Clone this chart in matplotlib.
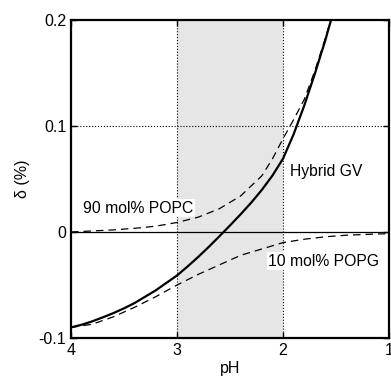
import matplotlib
matplotlib.use("Agg")
import matplotlib.pyplot as plt

plt.rcParams['font.family'] = ['Liberation Sans', 'DejaVu Sans']

# hybrid GV (solid)
ph_hybrid = [4.0, 3.9, 3.8, 3.7, 3.6, 3.5, 3.4, 3.3, 3.2, 3.1, 3.0, 2.9, 2.8, 2.7, 2.6, 2.5, 2.4,
             2.3, 2.2, 2.1, 2.0, 1.9, 1.8, 1.7, 1.6, 1.55]
d_hybrid = [-0.0900, -0.0875, -0.0843, -0.0805, -0.0765, -0.0720, -0.0670, -0.0610, -0.0550,
            -0.0480, -0.0410, -0.0325, -0.0235, -0.0140, -0.0040, 0.0062, 0.0167, 0.0277,
            0.0397, 0.0532, 0.0692, 0.0922, 0.1192, 0.1492, 0.1812, 0.1990]

# 90 mol% POPC (dashed, upper)
ph_popc = [4.0, 3.8, 3.6, 3.4, 3.2, 3.0, 2.8, 2.6, 2.4, 2.2, 2.1, 2.0, 1.9, 1.8, 1.7, 1.6, 1.55]
d_popc = [0.000, 0.001, 0.002, 0.0035, 0.0055, 0.009, 0.014, 0.022, 0.034, 0.053, 0.069,
          0.088, 0.106, 0.125, 0.152, 0.183, 0.200]

# 10 mol% POPG (dashed, lower)
ph_popg = [4.0, 3.8, 3.6, 3.4, 3.2, 3.0, 2.8, 2.6, 2.4, 2.2, 2.0, 1.8, 1.6, 1.4, 1.2, 1.0]
d_popg = [-0.090, -0.087, -0.080, -0.071, -0.061, -0.050, -0.040, -0.031, -0.022, -0.016,
          -0.010, -0.0068, -0.0045, -0.003, -0.0022, -0.0015]

fig = plt.figure(figsize=(3.91, 3.80), dpi=100)
ax = fig.add_axes([0.1816, 0.1105, 0.8133, 0.8368])

ax.axvspan(3, 2, color='#e6e6e6', lw=0, zorder=0)
for x in [3, 2]:
    ax.axvline(x, color='black', ls=':', lw=0.8, zorder=1)
ax.axhline(0.1, color='black', ls=':', lw=0.8, zorder=1)
ax.axhline(0, color='black', lw=0.9, zorder=1)

ax.plot(ph_popc, d_popc, color='black', ls=(0, (6, 4)), lw=0.9, zorder=2)
ax.plot(ph_popg, d_popg, color='black', ls=(0, (6, 4)), lw=0.9, zorder=2)
ax.plot(ph_hybrid, d_hybrid, color='black', lw=1.6, zorder=3)

box = dict(facecolor='white', edgecolor='none', pad=1)
ax.text(3.887, 0.0226, "90 mol% POPC", fontsize=11.3, va='center', ha='left', bbox=box, zorder=4)
ax.text(1.934, 0.0575, "Hybrid GV", fontsize=11.3, va='center', ha='left', bbox=box, zorder=4)
ax.text(2.142, -0.0274, "10 mol% POPG", fontsize=11.3, va='center', ha='left', bbox=box, zorder=4)

ax.set_xlim(4, 1)
ax.set_ylim(-0.1, 0.2)
ax.set_xticks([4, 3, 2, 1])
ax.set_xticklabels(["4", "3", "2", "1"])
ax.set_yticks([-0.1, 0, 0.1, 0.2])
ax.set_yticklabels(["-0.1", "0", "0.1", "0.2"])
ax.tick_params(direction='in', top=True, right=True, labelsize=11.5, length=4, width=1)
for s in ax.spines.values():
    s.set_linewidth(1.6)

ax.set_xlabel("pH", fontsize=11.5, labelpad=2)
ax.set_ylabel("δ (%)", fontsize=11.5, labelpad=6)

fig.savefig("out.png", dpi=100)
